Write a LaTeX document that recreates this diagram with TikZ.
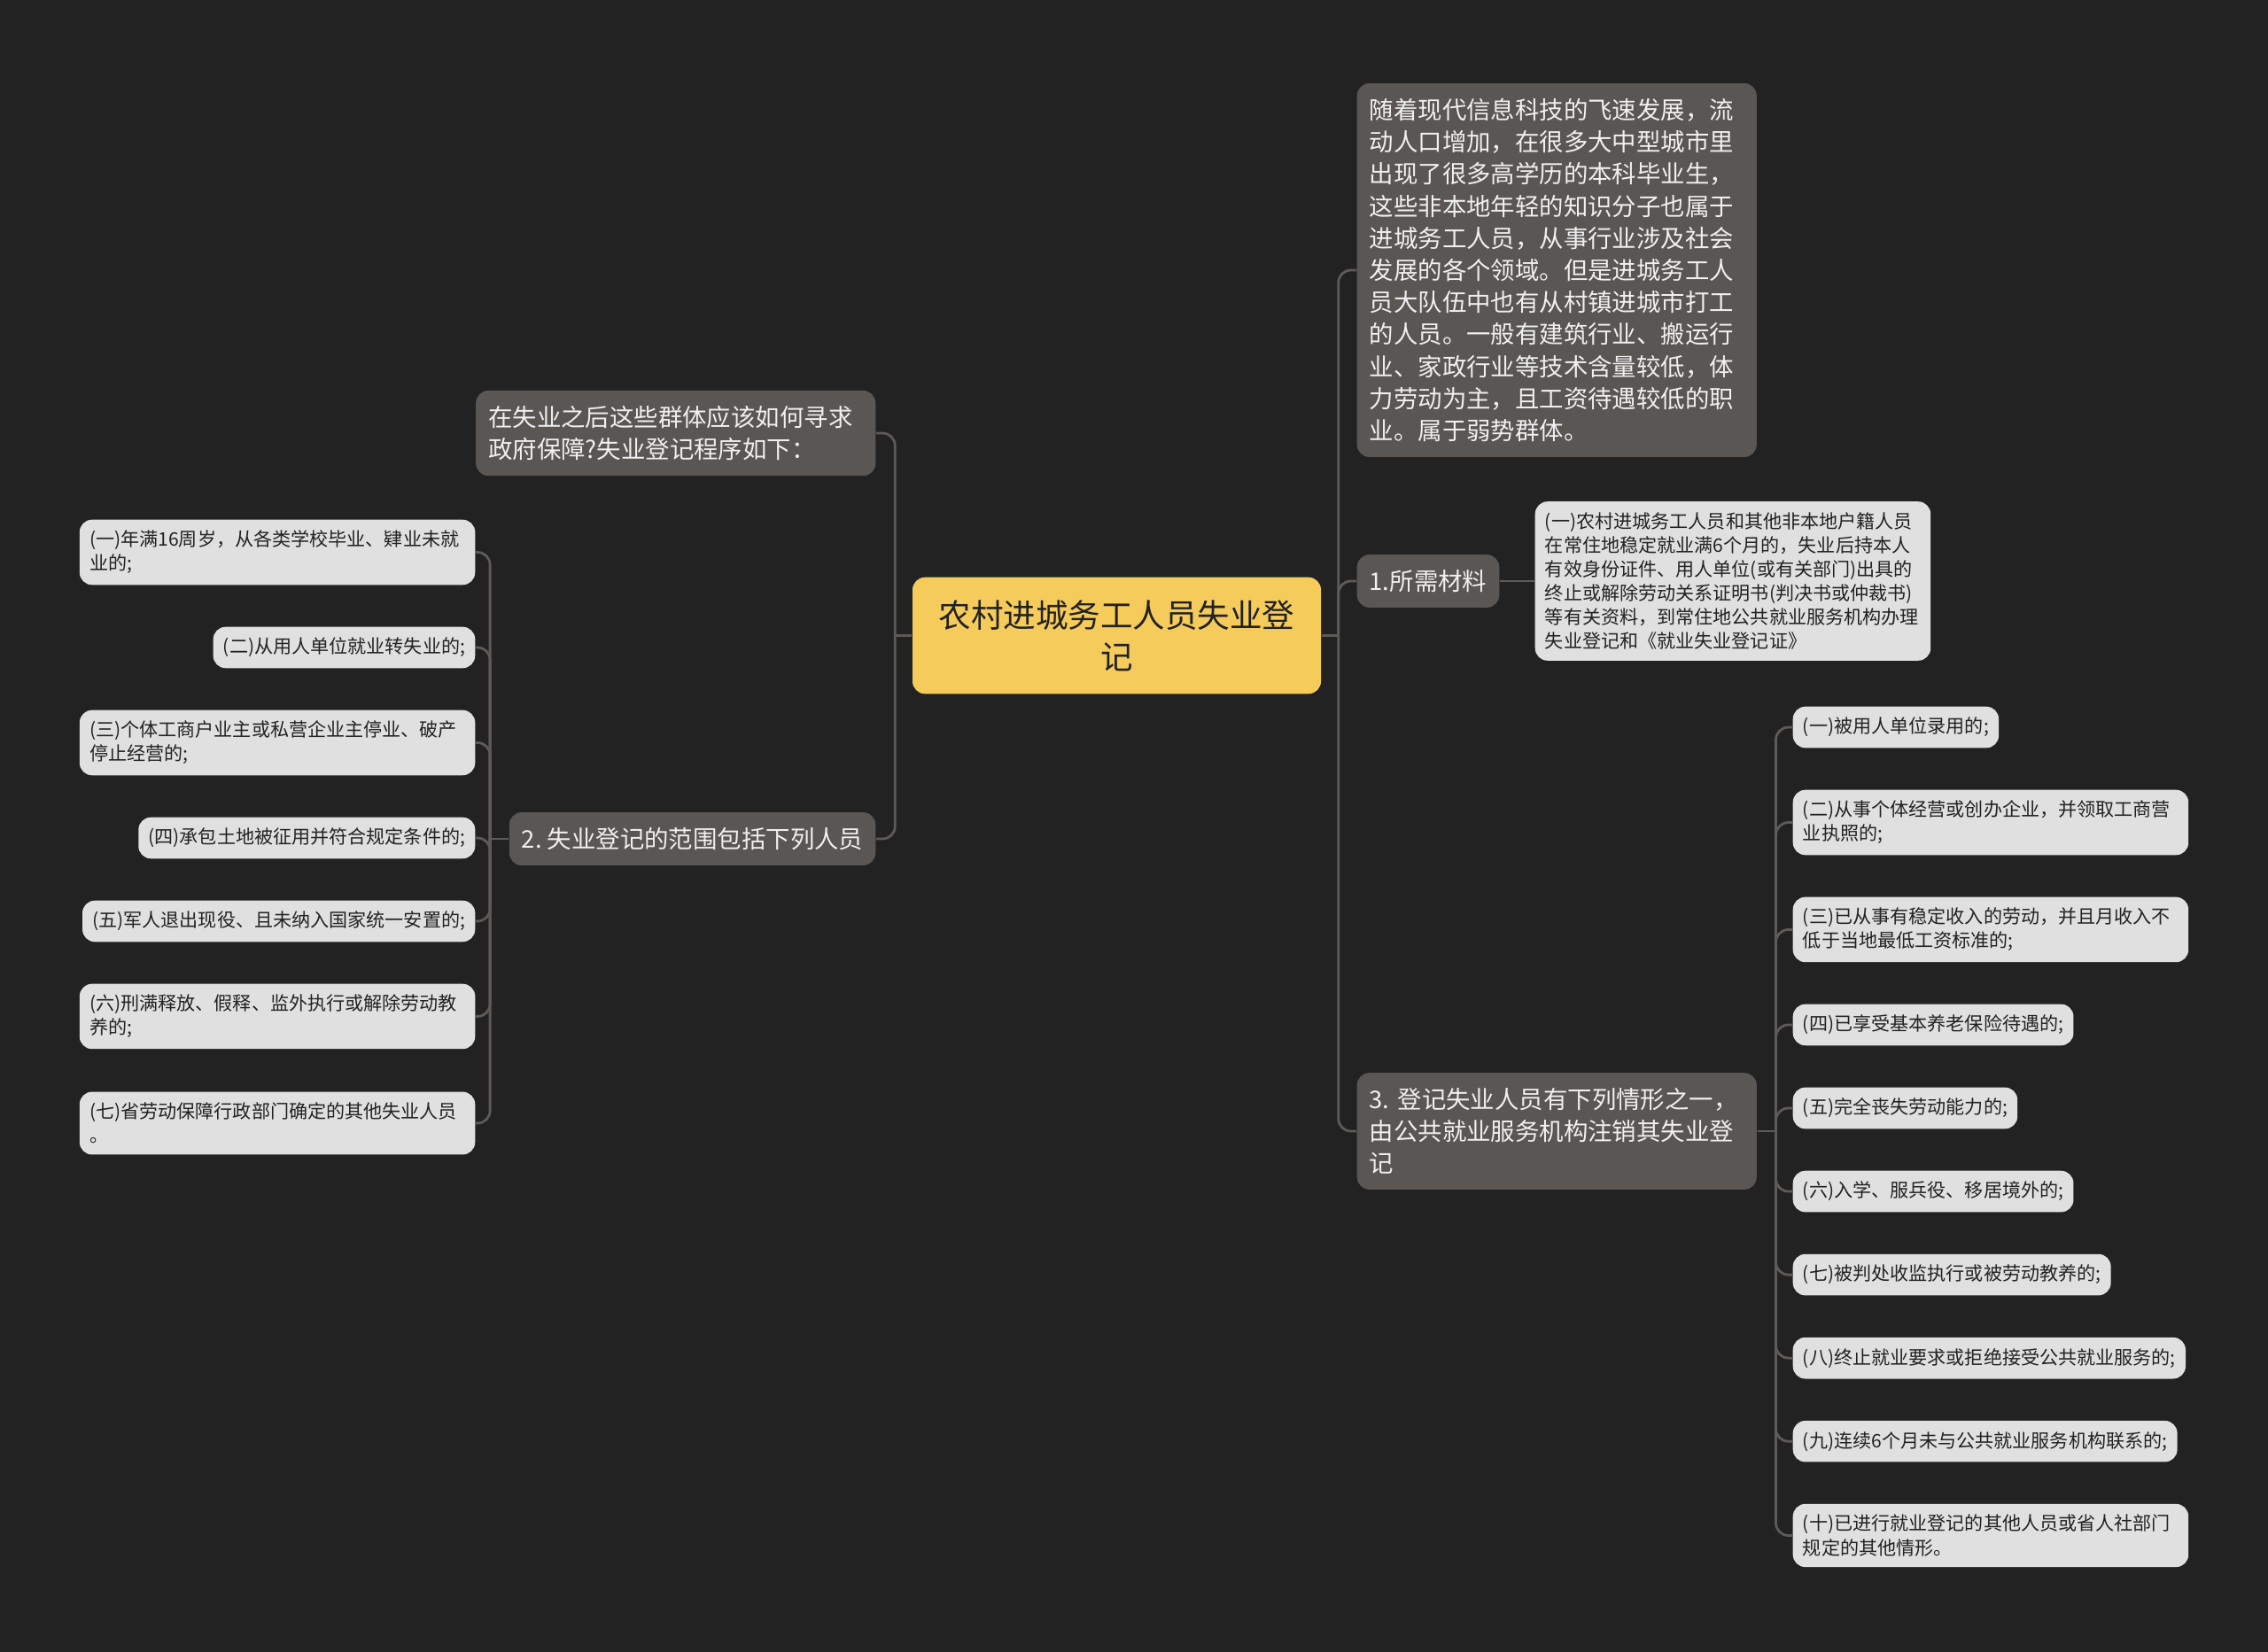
\documentclass[tikz,border=0pt]{standalone}
\usepackage{fontspec}
\setmainfont{Noto Sans CJK SC}
\frenchspacing
\definecolor{MapBg}{HTML}{222222}
\definecolor{MapRoot}{HTML}{F5CB5C}
\definecolor{MapSub}{HTML}{595654}
\definecolor{MapLeaf}{HTML}{E0E0E0}
\definecolor{MapLine}{HTML}{5E5A57}
\definecolor{MapInk}{HTML}{222222}
\usetikzlibrary{positioning,calc}

\begin{document}
\begin{tikzpicture}[
      topic/.style={rectangle, rounded corners=4pt, fill=MapRoot, text=MapInk,
        inner xsep=0.255cm, inner ysep=7.3pt, text width=4.1cm, align=center,
        font=\fontsize{10.4pt}{13.4pt}\selectfont},
      sub/.style={rectangle, rounded corners=4pt, fill=MapSub, text=white!94!black,
        inner xsep=4pt, inner ysep=4.9pt, align=left,
        font=\fontsize{7.8pt}{10.3pt}\selectfont},
      leaf/.style={rectangle, rounded corners=4pt, fill=MapLeaf, text=MapInk,
        inner xsep=3.2pt, inner ysep=3.5pt, align=left,
        font=\fontsize{6pt}{7.7pt}\selectfont},
      link/.style={draw=MapLine, line width=0.8pt, rounded corners=4pt}]
  \fill[MapBg] (0,0) rectangle (25.6,-18.65);
  \useasboundingbox (0,0) rectangle (25.6,-18.65);

  % centre and main branches
  \node[topic] (root) at (12.605,-7.175) {农村进城务工人员失业登\\记};
  \node[sub, text width=4.23cm, anchor=east] (ask) at (9.89,-4.89)
    {在失业之后这些群体应该如何寻求\\政府保障?失业登记程序如下：};
  \node[sub, anchor=east] (scope) at (9.89,-9.47) {2. 失业登记的范围包括下列人员};
  \node[sub, text width=4.23cm, anchor=west] (bg) at (15.31,-3.05)
    {随着现代信息科技的飞速发展，流\\动人口增加，在很多大中型城市里\\出现了很多高学历的本科毕业生，\\这些非本地年轻的知识分子也属于\\进城务工人员，从事行业涉及社会\\发展的各个领域。但是进城务工人\\员大队伍中也有从村镇进城市打工\\的人员。一般有建筑行业、搬运行\\业、家政行业等技术含量较低，体\\力劳动为主，且工资待遇较低的职\\业。属于弱势群体。};
  \node[sub, anchor=west] (need) at (15.31,-6.56) {1.所需材料};
  \node[leaf, text width=4.24cm, right=0.39cm of need] (needA)
    {(一)农村进城务工人员和其他非本地户籍人员\\在常住地稳定就业满6个月的，失业后持本人\\有效身份证件、用人单位(或有关部门)出具的\\终止或解除劳动关系证明书(判决书或仲裁书)\\等有关资料，到常住地公共就业服务机构办理\\失业登记和《就业失业登记证》};
  \node[sub, text width=4.23cm, anchor=west] (quit) at (15.31,-12.77)
    {3. 登记失业人员有下列情形之一，\\由公共就业服务机构注销其失业登\\记};

  % left leaves
  \node[leaf, text width=4.24cm, anchor=north east] (l1) at (5.37,-5.86)
    {(一)年满16周岁，从各类学校毕业、肄业未就\\业的;};
  \node[leaf, below=0.46cm of l1.south east, anchor=north east] (l2) {(二)从用人单位就业转失业的;};
  \node[leaf, text width=4.24cm, below=0.46cm of l2.south east, anchor=north east] (l3)
    {(三)个体工商户业主或私营企业主停业、破产\\停止经营的;};
  \node[leaf, below=0.46cm of l3.south east, anchor=north east] (l4) {(四)承包土地被征用并符合规定条件的;};
  \node[leaf, below=0.46cm of l4.south east, anchor=north east] (l5) {(五)军人退出现役、且未纳入国家统一安置的;};
  \node[leaf, text width=4.24cm, below=0.46cm of l5.south east, anchor=north east] (l6)
    {(六)刑满释放、假释、监外执行或解除劳动教\\养的;};
  \node[leaf, text width=4.24cm, below=0.47cm of l6.south east, anchor=north east] (l7)
    {(七)省劳动保障行政部门确定的其他失业人员\\。};

  % right leaves
  \node[leaf, anchor=north west] (c1) at (20.23,-7.97) {(一)被用人单位录用的;};
  \node[leaf, text width=4.24cm, below=0.46cm of c1.south west, anchor=north west] (c2)
    {(二)从事个体经营或创办企业，并领取工商营\\业执照的;};
  \node[leaf, text width=4.24cm, below=0.46cm of c2.south west, anchor=north west] (c3)
    {(三)已从事有稳定收入的劳动，并且月收入不\\低于当地最低工资标准的;};
  \node[leaf, below=0.46cm of c3.south west, anchor=north west] (c4) {(四)已享受基本养老保险待遇的;};
  \node[leaf, below=0.46cm of c4.south west, anchor=north west] (c5) {(五)完全丧失劳动能力的;};
  \node[leaf, below=0.46cm of c5.south west, anchor=north west] (c6) {(六)入学、服兵役、移居境外的;};
  \node[leaf, below=0.46cm of c6.south west, anchor=north west] (c7) {(七)被判处收监执行或被劳动教养的;};
  \node[leaf, below=0.46cm of c7.south west, anchor=north west] (c8) {(八)终止就业要求或拒绝接受公共就业服务的;};
  \node[leaf, below=0.46cm of c8.south west, anchor=north west] (c9) {(九)连续6个月未与公共就业服务机构联系的;};
  \node[leaf, text width=4.24cm, below=0.46cm of c9.south west, anchor=north west] (c10)
    {(十)已进行就业登记的其他人员或省人社部门\\规定的其他情形。};

  % connectors
  \coordinate (rootL) at ($(root.west)+(-0.19,0)$);
  \coordinate (rootR) at ($(root.east)+(0.19,0)$);
  \coordinate (scopeL) at ($(scope.west)+(-0.21,0)$);
  \coordinate (quitR) at ($(quit.east)+(0.21,0)$);
  \draw[link] (root.west) -- (rootL);
  \draw[link] (rootL) |- (ask.east);
  \draw[link] (rootL) |- (scope.east);
  \draw[link] (root.east) -- (rootR);
  \foreach \n in {bg,need,quit} \draw[link] (rootR) |- (\n.west);
  \draw[link] (need.east) -- (needA.west);
  \draw[link] (scope.west) -- (scopeL);
  \foreach \i in {1,...,7} \draw[link] (scopeL) |- (l\i.east);
  \draw[link] (quit.east) -- (quitR);
  \foreach \i in {1,...,10} \draw[link] (quitR) |- (c\i.west);
\end{tikzpicture}
\end{document}
